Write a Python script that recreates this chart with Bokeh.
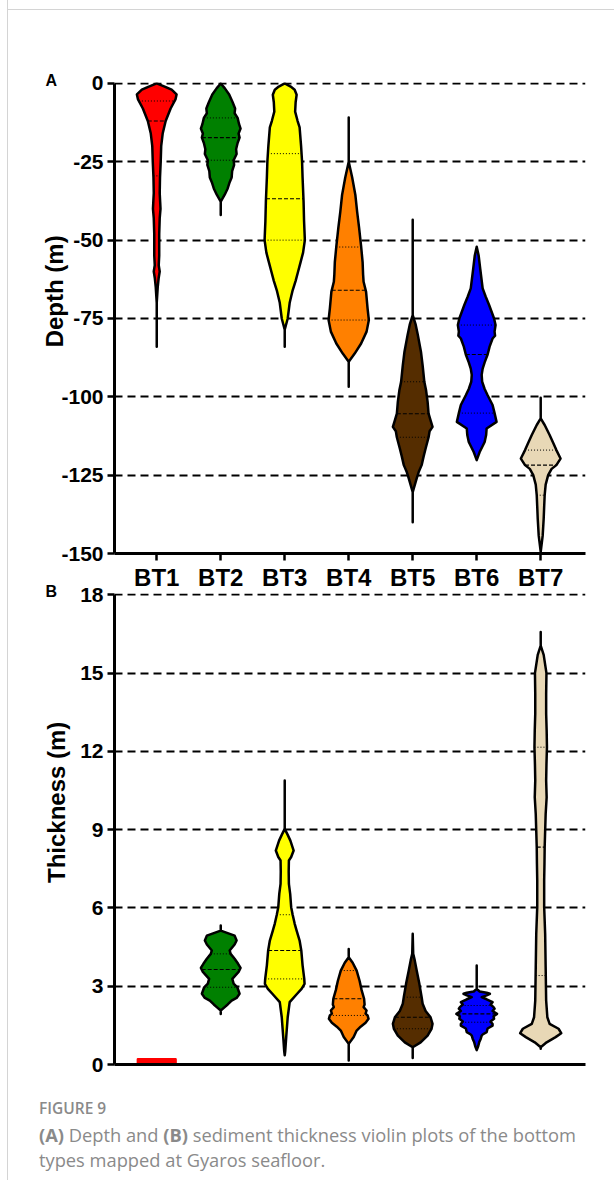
import numpy as np
from bokeh.plotting import figure
from bokeh.models import Range1d, FixedTicker, Div, Spacer
from bokeh.layouts import column, row
from bokeh.embed import file_html
from bokeh.resources import INLINE

# ---------------- data ----------------
categories = ["BT1", "BT2", "BT3", "BT4", "BT5", "BT6", "BT7"]
fill_colors = ["#ff0000", "#008000", "#ffff00", "#ff8000", "#552d00", "#0000ff", "#e8d8b6"]

depth_ticks = [-150, -125, -100, -75, -50, -25, 0]
depth_tick_labels = ["-150", "-125", "-100", "-75", "-50", "-25", "0"]
thick_ticks = [0, 3, 6, 9, 12, 15, 18]
thick_tick_labels = ["0", "3", "6", "9", "12", "15", "18"]

# Panel A: depth profiles (level in m, relative density, peak ~20)
bt1_depth_lv = [0, -1, -2, -3.5, -5, -8, -12, -16, -20, -25, -30, -35, -38, -40, -43, -48, -55, -58, -60, -62, -65, -70, -84]
bt1_depth_dn = [0, 8, 15, 20, 19, 14, 9, 6, 4.5, 4, 3.3, 3, 3.5, 3.8, 3, 2.5, 2.5, 2, 3, 2, 1, 0, 0]
bt2_depth_lv = [0, -1.5, -3.5, -6, -8, -9.5, -11, -13, -14.4, -16, -17.3, -19, -21, -22.5, -24.5, -26, -28, -30, -31.5, -33.5, -35.5, -37.7, -42]
bt2_depth_dn = [0, 4, 8.5, 12, 14.5, 14, 17, 18.5, 20, 18, 19, 17, 15.5, 16, 13, 13.5, 11.5, 11, 9, 7, 4, 0, 0]
bt3_depth_lv = [0, -1, -2, -3.6, -6, -9, -12, -14, -20, -25, -30, -37.7, -44, -50, -54, -57, -60, -63, -66, -68, -70, -75, -78.6, -84]
bt3_depth_dn = [0, 6, 10, 12, 11, 10.5, 13, 15, 16.5, 17.5, 18, 19, 19.5, 20.3, 18.5, 16, 13.5, 11, 8, 6.5, 5, 3, 0, 0]
bt4_depth_lv = [-10.9, -25, -30, -35.6, -41, -46.2, -52, -57, -61, -63.3, -66.5, -71.8, -75.5, -79.2, -83, -86.2, -88.8, -96.8]
bt4_depth_dn = [0, 0, 3.5, 6.7, 8.5, 10.5, 12.5, 14, 14.5, 15, 17.5, 19, 20.3, 18, 12.5, 6, 0, 0]
bt5_depth_lv = [-43.5, -73.9, -77, -80, -85.6, -90, -95.2, -98, -101.6, -105.4, -107.5, -109.6, -111, -112.9, -116.5, -119, -121.8, -124, -126, -130.4, -140]
bt5_depth_dn = [0, 0, 3, 5, 8.3, 10, 11.7, 13.5, 15, 16, 18, 20, 17, 16, 13, 11, 9, 6, 4, 0, 0]
bt6_depth_lv = [-52.1, -55, -59, -65.4, -68, -70.7, -75, -77.1, -79.2, -80.5, -81.4, -84, -86.5, -89, -91, -93, -95.2, -97.5, -99.5, -102.6, -105.2, -108, -110.1, -112.2, -114.4, -117.6, -120.2]
bt6_depth_dn = [0, 2, 3.5, 6, 9, 12.5, 17.5, 19, 18, 18.5, 16, 13, 11, 8, 6, 5, 5.5, 8, 11, 16, 18, 20, 10, 9.5, 8, 3, 0]
bt7_depth_lv = [-100.3, -106.9, -109, -112.2, -115, -117, -119.7, -121.8, -123, -125, -128, -131.4, -135, -138.9, -144.3, -149.5]
bt7_depth_dn = [0, 0, 4, 9, 13, 15.8, 20, 15.8, 11, 7.5, 5, 4, 3.5, 3, 2, 0]

depth_q1 = [-5.6, -11, -22.4, -52.2, -95.2, -77.1, -117]
depth_med = [-12, -17.3, -36.8, -66, -105.4, -86.5, -121.8]
depth_q3 = [-29.5, -24.5, -50, -75.5, -112.9, -105.2, -131.4]

# Panel B: sediment thickness profiles (level in m, relative density)
bt1_thick_lv = [0.2, 0.06]
bt1_thick_dn = [19, 19]
bt2_thick_lv = [5.33, 5.13, 4.94, 4.75, 4.6, 4.37, 4.24, 4.05, 3.86, 3.7, 3.55, 3.28, 3.1, 2.96, 2.71, 2.55, 2.45, 2.3, 2.2, 2.07, 1.94]
bt2_thick_dn = [0, 0, 14, 16, 14, 9, 10, 14, 17.5, 20, 18, 11.7, 13, 16.7, 19, 16, 11, 7, 4, 0, 0]
bt3_thick_lv = [10.88, 9.03, 8.8, 8.58, 8.2, 7.95, 7.82, 7.4, 6.92, 6.54, 6.03, 5.74, 5.4, 5.13, 4.75, 4.37, 3.8, 3.28, 3.09, 2.9, 2.71, 2.39, 1.81, 1.05, 0.5, 0.35]
bt3_thick_dn = [0, 0, 3, 5.7, 9, 6.5, 4.2, 4, 4.2, 5.5, 6.5, 8, 10, 12, 15, 16.7, 18, 19.7, 20, 17, 12.5, 5, 3, 1.5, 0.5, 0]
bt4_thick_lv = [4.43, 4.11, 3.9, 3.6, 3.2, 2.85, 2.52, 2.3, 2.2, 2.07, 1.95, 1.88, 1.75, 1.6, 1.45, 1.3, 1.05, 0.79, 0.15]
bt4_thick_dn = [0, 0, 4, 8, 11, 13, 15.5, 16, 15, 18, 17, 19, 20, 17, 12, 8, 5, 0, 0]
bt5_thick_lv = [5.01, 4.24, 4.0, 3.6, 3.09, 2.58, 2.33, 2.05, 1.81, 1.56, 1.37, 1.11, 0.85, 0.66, 0.25]
bt5_thick_dn = [0, 0.5, 2, 4, 6.7, 9, 10, 13, 18, 20, 19, 15, 8, 0, 0]
bt6_thick_lv = [3.79, 2.9, 2.8, 2.75, 2.71, 2.65, 2.58, 2.5, 2.39, 2.3, 2.2, 2.14, 2.05, 1.94, 1.85, 1.75, 1.65, 1.55, 1.49, 1.38, 1.24, 1.15, 1.11, 0.98, 0.85, 0.7, 0.55]
bt6_thick_dn = [0, 0, 3, 10, 13.3, 10, 5, 10, 16, 14, 17, 18, 16, 20.5, 17, 17.5, 14, 16, 16, 11, 10, 6, 5, 4, 2.5, 1.5, 0]
bt7_thick_lv = [16.57, 16.05, 15.7, 15.0, 14.2, 13.44, 12.8, 12.16, 11.5, 10.88, 10.24, 9.6, 8.97, 8.33, 7.7, 7.05, 6.03, 5.0, 3.73, 2.45, 1.81, 1.56, 1.37, 1.2, 1.05, 0.85, 0.66, 0.6]
bt7_thick_dn = [0, 0, 3, 5.8, 5.5, 5.5, 6, 6.3, 5.8, 5.5, 6, 5, 4.5, 4, 3.8, 3.5, 3.5, 4.5, 5, 5.5, 6.7, 9, 18, 20.7, 15, 6, 0, 0]

thick_q1 = [None, 2.96, 3.28, 1.88, 1.37, 1.62, 3.41]
thick_med = [None, 3.64, 4.37, 2.52, 1.81, 1.94, 8.33]
thick_q3 = [None, 4.24, 5.74, 3.6, 2.58, 2.26, 12.16]

depth_profiles = [(bt1_depth_lv, bt1_depth_dn), (bt2_depth_lv, bt2_depth_dn), (bt3_depth_lv, bt3_depth_dn),
                  (bt4_depth_lv, bt4_depth_dn), (bt5_depth_lv, bt5_depth_dn), (bt6_depth_lv, bt6_depth_dn),
                  (bt7_depth_lv, bt7_depth_dn)]
thick_profiles = [(bt1_thick_lv, bt1_thick_dn), (bt2_thick_lv, bt2_thick_dn), (bt3_thick_lv, bt3_thick_dn),
                  (bt4_thick_lv, bt4_thick_dn), (bt5_thick_lv, bt5_thick_dn), (bt6_thick_lv, bt6_thick_dn),
                  (bt7_thick_lv, bt7_thick_dn)]
thick_outline = ["#ff0000", "black", "black", "black", "black", "black", "black"]

# ---------------- styling ----------------
HALF = 0.31 / 20.0   # category units per density unit
FONT = "Liberation Sans"
X_RANGE = (0.34, 7.70)
NB = "\u00a0"


def make_fig(y0, y1, ticks, tick_labels, top, bottom, title, title_standoff, letter, letter_standoff):
    p = figure(frame_width=471, frame_height=471,
               x_range=Range1d(*X_RANGE), y_range=Range1d(y0, y1),
               output_backend="svg", toolbar_location=None,
               min_border_left=106, min_border_right=20,
               min_border_top=top, min_border_bottom=bottom)
    p.outline_line_color = None
    p.border_fill_color = None
    p.background_fill_color = "white"
    p.xgrid.visible = False
    p.yaxis.ticker = FixedTicker(ticks=ticks)
    p.yaxis.major_label_overrides = {t: s for t, s in zip(ticks, tick_labels)}
    p.yaxis.bounds = (ticks[0], ticks[-1])
    p.ygrid.grid_line_color = "black"
    p.ygrid.grid_line_width = 2
    p.ygrid.grid_line_dash = "8 5"
    for ax in (p.xaxis[0], p.yaxis[0]):
        ax.axis_line_width = 3
        ax.axis_line_color = "black"
        ax.major_tick_line_width = 2.5
        ax.major_tick_line_color = "black"
        ax.major_tick_out = 7
        ax.major_tick_in = 0
        ax.minor_tick_line_color = None
        ax.major_label_text_font = FONT
        ax.major_label_text_font_style = "bold"
        ax.major_label_text_color = "black"
    p.yaxis.major_label_text_font_size = "21px"
    p.yaxis.major_label_standoff = 4
    p.yaxis.axis_label = NB * 8 + title
    p.yaxis.axis_label_text_font = FONT
    p.yaxis.axis_label_text_font_style = "bold"
    p.yaxis.axis_label_text_font_size = "24px"
    p.yaxis.axis_label_text_color = "black"
    p.yaxis.axis_label_standoff = title_standoff
    # panel letter
    p.title.text = letter
    p.title.align = "left"
    p.title.offset = -69
    p.title.standoff = letter_standoff
    p.title.vertical_align = "bottom"
    p.title.text_font = FONT
    p.title.text_font_style = "bold"
    p.title.text_font_size = "16px"
    p.title.text_color = "black"
    return p


def draw_violins(p, profiles, q1, med, q3, outlines):
    for i, (lv, dn) in enumerate(profiles):
        xc = i + 1
        lv = np.asarray(lv, dtype=float)
        hw = np.asarray(dn, dtype=float) * HALF
        xs = np.concatenate([xc + hw, (xc - hw)[::-1]])
        ys = np.concatenate([lv, lv[::-1]])
        p.patch(xs, ys, fill_color=fill_colors[i], line_color=outlines[i],
                line_width=2.5, line_join="round")
        for q, dash, lw in ((q1[i], "1 2", 1), (med[i], "4 2", 1.1), (q3[i], "1 2", 1)):
            if q is None:
                continue
            w = float(np.interp(q, lv[::-1], hw[::-1]))
            p.segment(x0=[xc - w], y0=[q], x1=[xc + w], y1=[q],
                      line_color="black", line_width=lw, line_dash=dash)


# ---------------- panel A ----------------
pA = make_fig(-150, 0.3, depth_ticks, depth_tick_labels, 73, 32, "Depth (m)", -10, "A", -13)
pA.xaxis.ticker = FixedTicker(ticks=list(range(1, 8)))
pA.xaxis.major_label_overrides = {i + 1: c for i, c in enumerate(categories)}
pA.xaxis.major_label_text_font_size = "24px"
pA.xaxis.major_label_standoff = 3
draw_violins(pA, depth_profiles, depth_q1, depth_med, depth_q3, ["black"] * 7)

# ---------------- panel B ----------------
pB = make_fig(0, 18.05, thick_ticks, thick_tick_labels, 10, 12, "Thickness (m)", 7, "B", -12)
pB.margin = (-10, 0, 0, 0)
pB.xaxis.ticker = FixedTicker(ticks=[])
pB.xaxis.major_tick_line_color = None
pB.xaxis.major_label_text_font_size = "0px"
draw_violins(pB, thick_profiles, thick_q1, thick_med, thick_q3, thick_outline)

caption = Div(width=590, margin=0, text=(
    "<div style=\"font-family:'Open Sans'; color:#8a8a8a; padding-left:31px; margin-top:22px;\">"
    "<div style='font-size:15.5px; font-weight:600; line-height:20px;'>FIGURE 9</div>"
    "<div style='font-size:18.3px; line-height:25px; margin-top:4px; width:548px;'>"
    "<span style='font-weight:700'>(A)</span>&nbsp;Depth and "
    "<span style='font-weight:700'>(B)</span>&nbsp;sediment thickness violin plots of the bottom "
    "types mapped at Gyaros seafloor.</div></div>"))

hline = Div(width=607, height=1, margin=0,
            text="<div style='position:relative;top:-10px;width:607px;height:1px;background:#d4d4d4'></div>")
vline = Div(width=1, height=1171, margin=0,
            text="<div style='position:relative;top:-10px;width:1px;height:1181px;background:#d4d4d4'></div>")

inner = column(pA, pB, caption, margin=0)
layout = column(Spacer(height=8, margin=0),
                row(Spacer(width=7, margin=0), hline, margin=0),
                row(Spacer(width=7, margin=0), vline, inner, margin=0),
                margin=0)

open("out.html", "w").write(file_html(layout, INLINE))
